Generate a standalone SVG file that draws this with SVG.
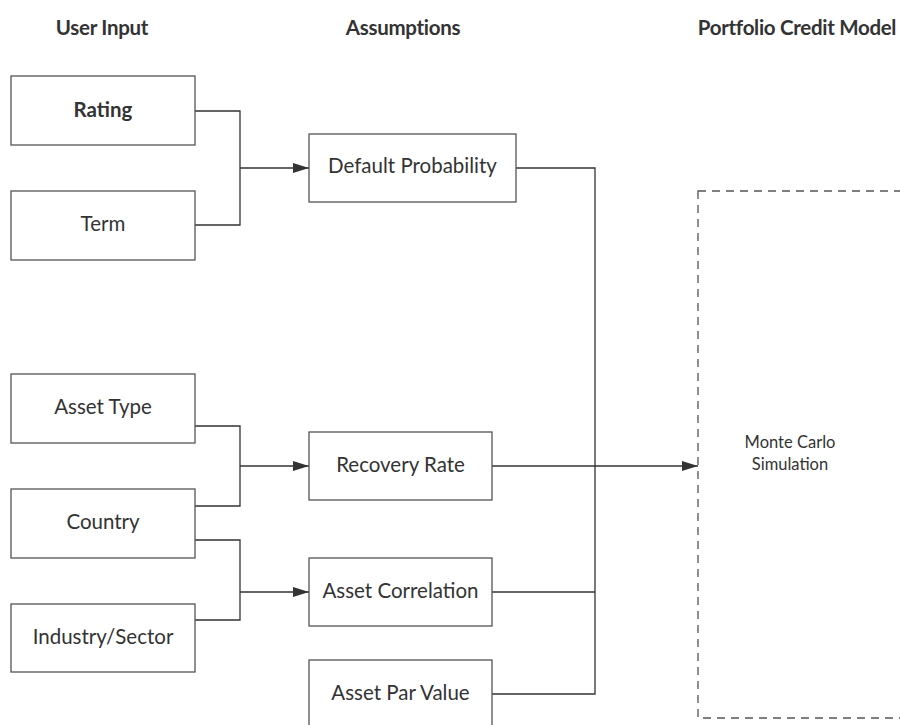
<svg xmlns="http://www.w3.org/2000/svg" width="900" height="725" viewBox="0 0 900 725">
<style>
  .box{fill:#fff;stroke:#555;stroke-width:1.3}
  .lbl{font-family:Lato,"Liberation Sans",sans-serif;font-size:20.5px;fill:#333;text-anchor:middle}
  .hdr{font-family:Lato,"Liberation Sans",sans-serif;font-size:20.5px;font-weight:bold;fill:#333;text-anchor:middle;letter-spacing:-0.3px}
  .mc{font-family:Lato,"Liberation Sans",sans-serif;font-size:16.5px;fill:#333;text-anchor:middle}
  .wire{fill:none;stroke:#333;stroke-width:1.3}
  .dash{fill:none;stroke:#555;stroke-width:1.3;stroke-dasharray:8,6}
</style>
<defs>
  <marker id="arr" markerWidth="16" markerHeight="10" refX="16" refY="5" orient="auto" markerUnits="userSpaceOnUse">
    <path d="M0,0 L16,5 L0,10 Z" fill="#333"/>
  </marker>
</defs>
<rect width="900" height="725" fill="#fff"/>
<g id="headers">
  <text class="hdr" x="102" y="35">User Input</text>
  <text class="hdr" x="403" y="35">Assumptions</text>
  <text class="hdr" x="797" y="35">Portfolio Credit Model</text>
</g>
<g id="connectors">
  <path class="wire" d="M195,111 H240 V225 H195"/>
  <path class="wire" d="M240,168 H309" marker-end="url(#arr)"/>
  <path class="wire" d="M195,426 H240 V506 H195"/>
  <path class="wire" d="M240,466 H309" marker-end="url(#arr)"/>
  <path class="wire" d="M195,540 H240 V620 H195"/>
  <path class="wire" d="M240,592 H309" marker-end="url(#arr)"/>
  <path class="wire" d="M516,168 H595 V694 H492"/>
  <path class="wire" d="M492,592 H595"/>
  <path class="wire" d="M492,466 H698" marker-end="url(#arr)"/>
</g>
<g id="rating"><rect class="box" x="11" y="76" width="184" height="69"/><text class="lbl" x="103" y="116.5" font-weight="bold">Rating</text></g>
<g id="term"><rect class="box" x="11" y="191" width="184" height="69"/><text class="lbl" x="103" y="231">Term</text></g>
<g id="asset-type"><rect class="box" x="11" y="374" width="184" height="69"/><text class="lbl" x="103" y="414">Asset Type</text></g>
<g id="country"><rect class="box" x="11" y="489" width="184" height="69"/><text class="lbl" x="103" y="529">Country</text></g>
<g id="industry"><rect class="box" x="11" y="604" width="184" height="68"/><text class="lbl" x="103" y="643.5">Industry/Sector</text></g>
<g id="default-prob"><rect class="box" x="309" y="134" width="207" height="68"/><text class="lbl" x="412.5" y="173">Default Probability</text></g>
<g id="recovery"><rect class="box" x="309" y="432" width="183" height="68"/><text class="lbl" x="400.5" y="471.5">Recovery Rate</text></g>
<g id="correlation"><rect class="box" x="309" y="558" width="183" height="68"/><text class="lbl" x="400.5" y="597.5">Asset Correlation</text></g>
<g id="par-value"><rect class="box" x="309" y="660" width="183" height="68"/><text class="lbl" x="400.5" y="699.5">Asset Par Value</text></g>
<g id="monte-carlo">
  <rect class="dash" x="698" y="191" width="240" height="527"/>
  <text class="mc" x="790" y="448">Monte Carlo</text>
  <text class="mc" x="790" y="469.5">Simulation</text>
</g>
</svg>
